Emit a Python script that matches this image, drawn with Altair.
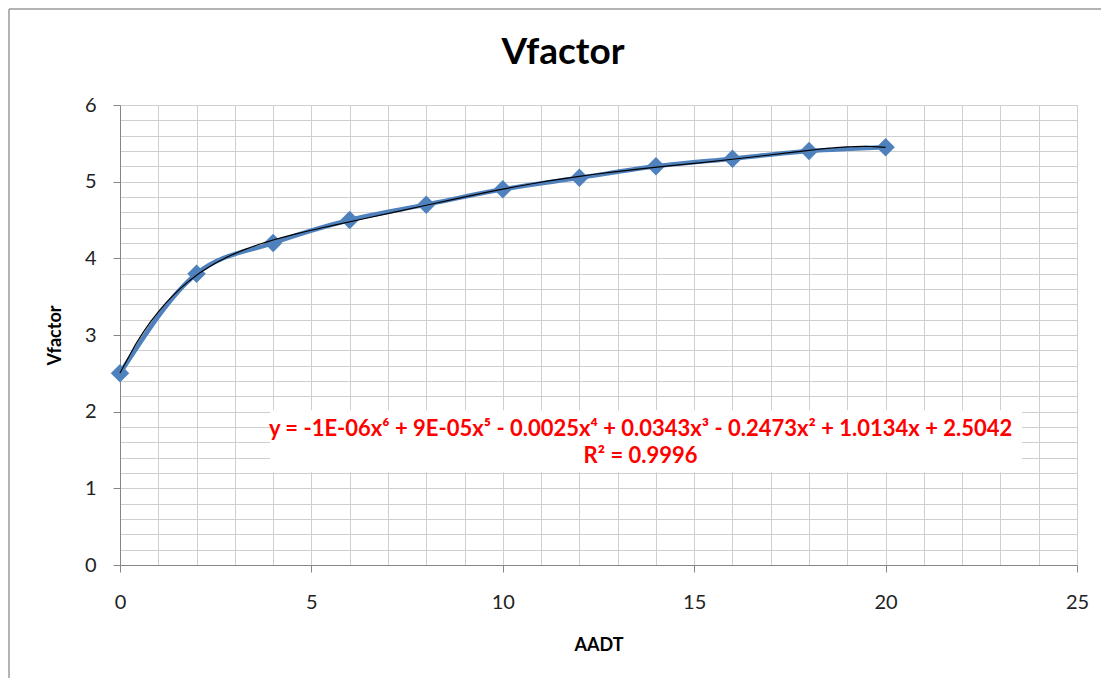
import altair as alt
import pandas as pd

# data
aadt = [0, 2, 4, 6, 8, 10, 12, 14, 16, 18, 20]
vfactor = [2.5, 3.8, 4.2, 4.5, 4.7, 4.9, 5.05, 5.2, 5.3, 5.4, 5.45]

x_grid = list(range(0, 26))
y_grid = [round(k * 0.2, 1) for k in range(0, 31)]

chart_title = ["Vfactor"]
equation = "y = -1E-06x⁶ + 9E-05x⁵ - 0.0025x⁴ + 0.0343x³ - 0.2473x² + 1.0134x + 2.5042"
r_squared = "R² = 0.9996"

# annotation box / label placement in data units
box_x = [3.92]
box_x2 = [23.56]
box_y = [2.02]
box_y2 = [1.21]
lbl_x = [13.6, 13.6]
lbl_y = [1.78, 1.42]
lbl_text = [equation, r_squared]

df = pd.DataFrame({"AADT": aadt, "Vfactor": vfactor})
box_df = pd.DataFrame({"x": box_x, "x2": box_x2, "y": box_y, "y2": box_y2})
lbl_df = pd.DataFrame({"x": lbl_x, "y": lbl_y, "t": lbl_text})
title_df = pd.DataFrame({"t": chart_title})

FONT = "Lato, DejaVu Sans, sans-serif"
BLUE = "#4F81BD"
AX = "#868686"
GRID = "#CFCFCF"

x_scale = alt.Scale(domain=[0, 25], nice=False, zero=False)
y_scale = alt.Scale(domain=[0, 6], nice=False, zero=False)

x_major = "abs(datum.value / 5 - round(datum.value / 5)) < 1e-6"
y_major = "abs(datum.value - round(datum.value)) < 1e-6"

x_axis = alt.Axis(
    values=x_grid,
    tickCount=200,
    grid=True,
    gridColor=GRID,
    gridWidth=1,
    labelExpr=f"{x_major} ? format(datum.value, 'd') : ''",
    labelOverlap=False,
    labelFlush=False,
    tickOpacity={"condition": {"test": x_major, "value": 1}, "value": 0},
    tickSize=7,
    tickColor=AX,
    domainColor=AX,
    labelFont=FONT,
    labelFontSize=20,
    labelColor="#222222",
    labelBaseline="middle",
    labelPadding=30,
    title="AADT",
    titleFont=FONT,
    titleFontSize=18,
    titleFontWeight="bold",
    titleColor="#000000",
    titleY=80,
    titleBaseline="middle",
)

y_axis = alt.Axis(
    values=y_grid,
    tickCount=200,
    grid=True,
    gridColor=GRID,
    gridWidth=1,
    labelExpr=f"{y_major} ? format(datum.value, 'd') : ''",
    labelOverlap=False,
    labelFlush=False,
    tickOpacity={"condition": {"test": y_major, "value": 1}, "value": 0},
    tickSize=7,
    tickColor=AX,
    domainColor=AX,
    labelFont=FONT,
    labelFontSize=20,
    labelColor="#222222",
    labelPadding=17,
    title="Vfactor",
    titleFont=FONT,
    titleFontSize=18,
    titleFontWeight="bold",
    titleColor="#000000",
    titleX=-65,
    titleY=230,
    titleBaseline="middle",
)

base = alt.Chart(df)

line = base.mark_line(color=BLUE, strokeWidth=4.5, interpolate="monotone").encode(
    x=alt.X("AADT:Q", scale=x_scale, axis=x_axis),
    y=alt.Y("Vfactor:Q", scale=y_scale, axis=y_axis),
)

points = base.mark_point(shape="diamond", filled=True, color=BLUE, opacity=1, size=340).encode(
    x=alt.X("AADT:Q", scale=x_scale),
    y=alt.Y("Vfactor:Q", scale=y_scale),
)

trend = base.transform_regression(
    "AADT", "Vfactor", method="poly", order=6
).mark_line(color="#000000", strokeWidth=1.2).encode(
    x=alt.X("AADT:Q", scale=x_scale),
    y=alt.Y("Vfactor:Q", scale=y_scale),
)

box = alt.Chart(box_df).mark_rect(color="white", opacity=1).encode(
    x=alt.X("x:Q", scale=x_scale),
    x2="x2:Q",
    y=alt.Y("y:Q", scale=y_scale),
    y2="y2:Q",
)

labels = alt.Chart(lbl_df).mark_text(
    color="#FF0000", font=FONT, fontSize=22, fontWeight="bold", align="center", baseline="middle"
).encode(
    x=alt.X("x:Q", scale=x_scale),
    y=alt.Y("y:Q", scale=y_scale),
    text="t:N",
)

title = alt.Chart(title_df).mark_text(
    color="#000000", font=FONT, fontSize=37, fontWeight="bold", align="center", baseline="middle"
).encode(x=alt.value(443), y=alt.value(-52), text="t:N")

# outer chart frame (top and left edges, as in the cropped reference)
frame_top = alt.Chart(box_df).mark_rule(color="#9A9A9A", strokeWidth=1.5).encode(
    x=alt.value(-111), x2=alt.value(1000), y=alt.value(-96)
)
frame_left = alt.Chart(box_df).mark_rule(color="#9A9A9A", strokeWidth=1.5).encode(
    x=alt.value(-111), y=alt.value(-96), y2=alt.value(600)
)

chart = alt.layer(box, line, points, trend, labels, title, frame_top, frame_left).properties(
    width=957,
    height=460,
    autosize=alt.AutoSizeParams(type="none"),
    padding={"left": 112, "top": 97, "right": 24, "bottom": 113},
).configure_view(stroke=None).configure(background="white")

chart.save("out.html", embed_options={"renderer": "svg", "actions": False})
